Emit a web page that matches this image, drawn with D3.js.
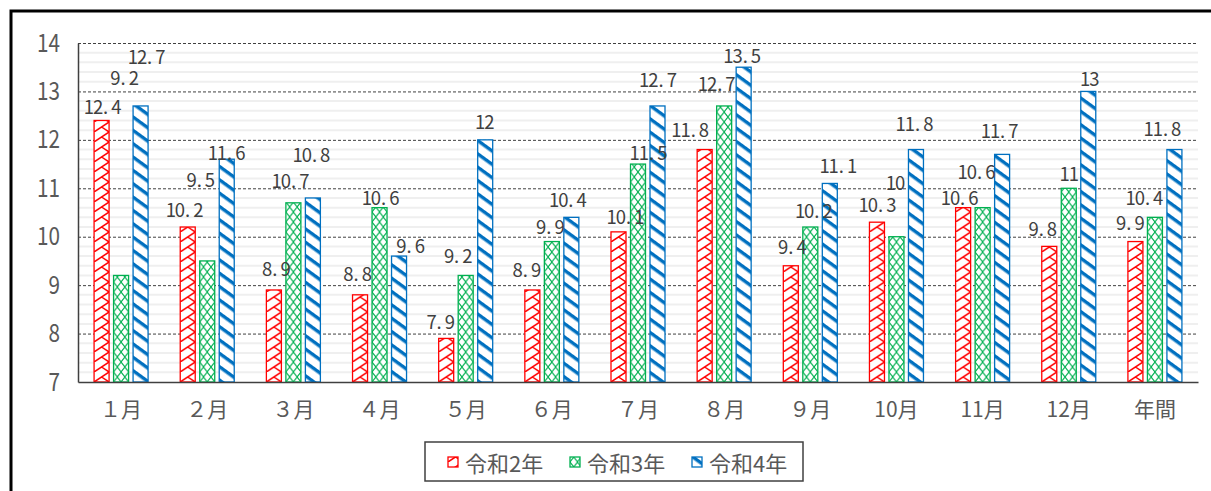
<!DOCTYPE html>
<html><head><meta charset="utf-8">
<script src="https://cdn.jsdelivr.net/npm/d3@7"></script>
<style>
body{margin:0;background:#fff}
svg{display:block}
text{font-family:"Noto Sans CJK JP","Noto Sans",sans-serif}
</style>
</head><body>
<svg id="chart" width="1211" height="491"></svg>
<script>
// ---- data ----
const categories = ["１月","２月","３月","４月","５月","６月","７月","８月","９月","10月","11月","12月","年間"];
const seriesNames = ["令和2年","令和3年","令和4年"];
const reiwa2 = [12.4,10.2,8.9,8.8,7.9,8.9,10.1,11.8,9.4,10.3,10.6,9.8,9.9];
const reiwa3 = [9.2,9.5,10.7,10.6,9.2,9.9,11.5,12.7,10.2,10,10.6,11,10.4];
const reiwa4 = [12.7,11.6,10.8,9.6,12,10.4,12.7,13.5,11.1,11.8,11.7,13,11.8];
const yTicks = [7,8,9,10,11,12,13,14];
// where each data label sits (value units)
const labelLevel2 = [12.70,10.57,9.35,9.25,8.26,9.33,10.43,12.22,9.81,10.68,10.82,10.18,10.30];
const labelLevel3 = [13.30,11.19,11.17,10.82,9.62,10.22,11.75,13.17,10.55,11.13,11.36,11.32,10.82];
const labelLevel4 = [13.73,11.75,11.71,9.83,12.39,10.78,13.26,13.75,11.48,12.35,12.20,13.28,12.24];
const labelShift2 = [0.5,-3.7,2,-3,-6,-6,6.5,-15,1,0,-4,-7,-5.5];
const labelShift3 = [3,-7,-3.4,0.5,-8,-2,10,-8,3,-1.5,-6.6,0,-11];
const labelShift4 = [5.5,-0.7,-2,11,-1,-4,0,-2,8,-2,-3,1,-12.5];

const values = [reiwa2, reiwa3, reiwa4];
const levels = [labelLevel2, labelLevel3, labelLevel4];
const shifts = [labelShift2, labelShift3, labelShift4];
const colors = ["#ff0000","#00b050","#0070c0"];

const svg = d3.select("#chart");
const plot = {left:78, right:1198, top:43, bottom:382};

const x0 = d3.scaleBand().domain(categories).range([plot.left, plot.right]).padding(0);
const x1 = d3.scaleBand().domain(d3.range(3)).range([-29.25, 29.25]).paddingInner(0.2308).paddingOuter(0.1154);
const y = d3.scaleLinear().domain([7,14]).range([plot.bottom, plot.top]);

// outer frame
svg.append("rect").attr("x",11).attr("y",11).attr("width",1300).attr("height",1000)
  .attr("fill","none").attr("stroke","#000").attr("stroke-width",3);

const defs = svg.append("defs");

// minor gridlines
const minor = d3.range(7.2, 14, 0.2).filter(v => Math.abs(v - Math.round(v)) > 0.01);
svg.append("g").selectAll("line").data(minor).join("line")
  .attr("x1",plot.left).attr("x2",plot.right)
  .attr("y1",d=>y(d)).attr("y2",d=>y(d))
  .attr("stroke","#efefef").attr("stroke-width",2);

// major dashed gridlines via axis
const gridAxis = d3.axisLeft(y).tickValues(yTicks.filter(t=>t>7)).tickSize(-(plot.right-plot.left)).tickFormat("");
const gg = svg.append("g").attr("transform",`translate(${plot.left},0)`).call(gridAxis);
gg.select(".domain").remove();
gg.selectAll("line").attr("stroke","#404040").attr("stroke-dasharray","3,2").attr("stroke-width",1);

// patterns
function makePattern(id, s, bx) {
  const c = colors[s];
  if (s === 0) {
    const p = defs.append("pattern").attr("id",id).attr("patternUnits","userSpaceOnUse")
      .attr("x",bx).attr("y",plot.bottom).attr("width",15).attr("height",10);
    p.append("rect").attr("width",15).attr("height",10).attr("fill","#fff");
    p.append("path").attr("d","M0,10 L15,0 M7.5,5 L15,10").attr("stroke",c).attr("stroke-width",1.5).attr("fill","none");
  } else if (s === 1) {
    const p = defs.append("pattern").attr("id",id).attr("patternUnits","userSpaceOnUse")
      .attr("x",bx).attr("y",plot.bottom).attr("width",7.5).attr("height",10);
    p.append("rect").attr("width",7.5).attr("height",10).attr("fill","#fff");
    p.append("path").attr("d","M0,0 L7.5,10 M7.5,0 L0,10").attr("stroke",c).attr("stroke-width",1.1).attr("fill","none");
  } else {
    const p = defs.append("pattern").attr("id",id).attr("patternUnits","userSpaceOnUse")
      .attr("x",bx).attr("y",plot.bottom).attr("width",20).attr("height",10.8)
      .attr("patternTransform","rotate(36)");
    p.append("rect").attr("width",20).attr("height",10.8).attr("fill","#fff");
    p.append("rect").attr("y",0).attr("width",20).attr("height",3.4).attr("fill",c);
  }
}

// bars
const bars = svg.append("g");
values.forEach((vals, s) => {
  vals.forEach((v, i) => {
    const bx = x0(categories[i]) + x0.bandwidth()/2 + x1(s);
    const id = `pat${s}_${i}`;
    makePattern(id, s, bx);
    bars.append("rect")
      .attr("x", bx).attr("width", x1.bandwidth())
      .attr("y", y(v)).attr("height", y(7) - y(v))
      .attr("fill", `url(#${id})`)
      .attr("stroke", colors[s]).attr("stroke-width", 1.3);
  });
});

// axes
const yAxis = d3.axisLeft(y).tickValues(yTicks).tickFormat(d3.format("d")).tickSize(0).tickPadding(18);
const ya = svg.append("g").attr("transform",`translate(${plot.left},0)`).call(yAxis);
ya.select(".domain").attr("stroke","#404040").attr("stroke-width",1.5);
ya.selectAll("text").attr("fill","#595959").attr("font-size",25)
  .attr("font-family",'"Noto Sans CJK JP",sans-serif')
  .attr("textLength", d => String(d).length*11.5).attr("lengthAdjust","spacingAndGlyphs");

const xAxis = d3.axisBottom(x0).tickSize(0).tickPadding(20);
const xa = svg.append("g").attr("transform",`translate(0,${plot.bottom})`).call(xAxis);
xa.select(".domain").attr("stroke","#404040").attr("stroke-width",1.5);
xa.selectAll("text").attr("fill","#595959").attr("font-size",21)
  .attr("font-family",'"Noto Sans CJK JP",sans-serif');

// data labels
const lab = svg.append("g").attr("fill","#404040").attr("font-size",18.5);
values.forEach((vals, s) => {
  vals.forEach((v, i) => {
    const str = String(v);
    const cx = x0(categories[i]) + x0.bandwidth()/2 + x1(s) + x1.bandwidth()/2 + shifts[s][i];
    const cell = 9.2;
    const left = cx - str.length*cell/2;
    const xs = [...str].map((ch, k) => left + k*cell + (ch === "." ? 1 : 0));
    lab.append("text")
      .attr("x", xs.join(" "))
      .attr("y", y(levels[s][i]))
      .attr("dominant-baseline","central")
      .text(str);
  });
});

// legend
const leg = svg.append("g");
leg.append("rect").attr("x",425).attr("y",442).attr("width",378).attr("height",39)
  .attr("fill","#fff").attr("stroke","#404040").attr("stroke-width",1.5);
const legX = d3.scalePoint().domain(seriesNames).range([448, 692]);
seriesNames.forEach((name, s) => {
  const lx = legX(name);
  const id = `legpat${s}`;
  makePattern(id, s, lx);
  leg.append("rect").attr("x",lx).attr("y",457).attr("width",10).attr("height",10)
    .attr("fill",`url(#${id})`).attr("stroke",colors[s]).attr("stroke-width",1.3);
  leg.append("text").attr("x",lx+17).attr("y",462).attr("dominant-baseline","central")
    .attr("font-size",22).attr("fill","#595959").text(name);
});
</script>
</body></html>
